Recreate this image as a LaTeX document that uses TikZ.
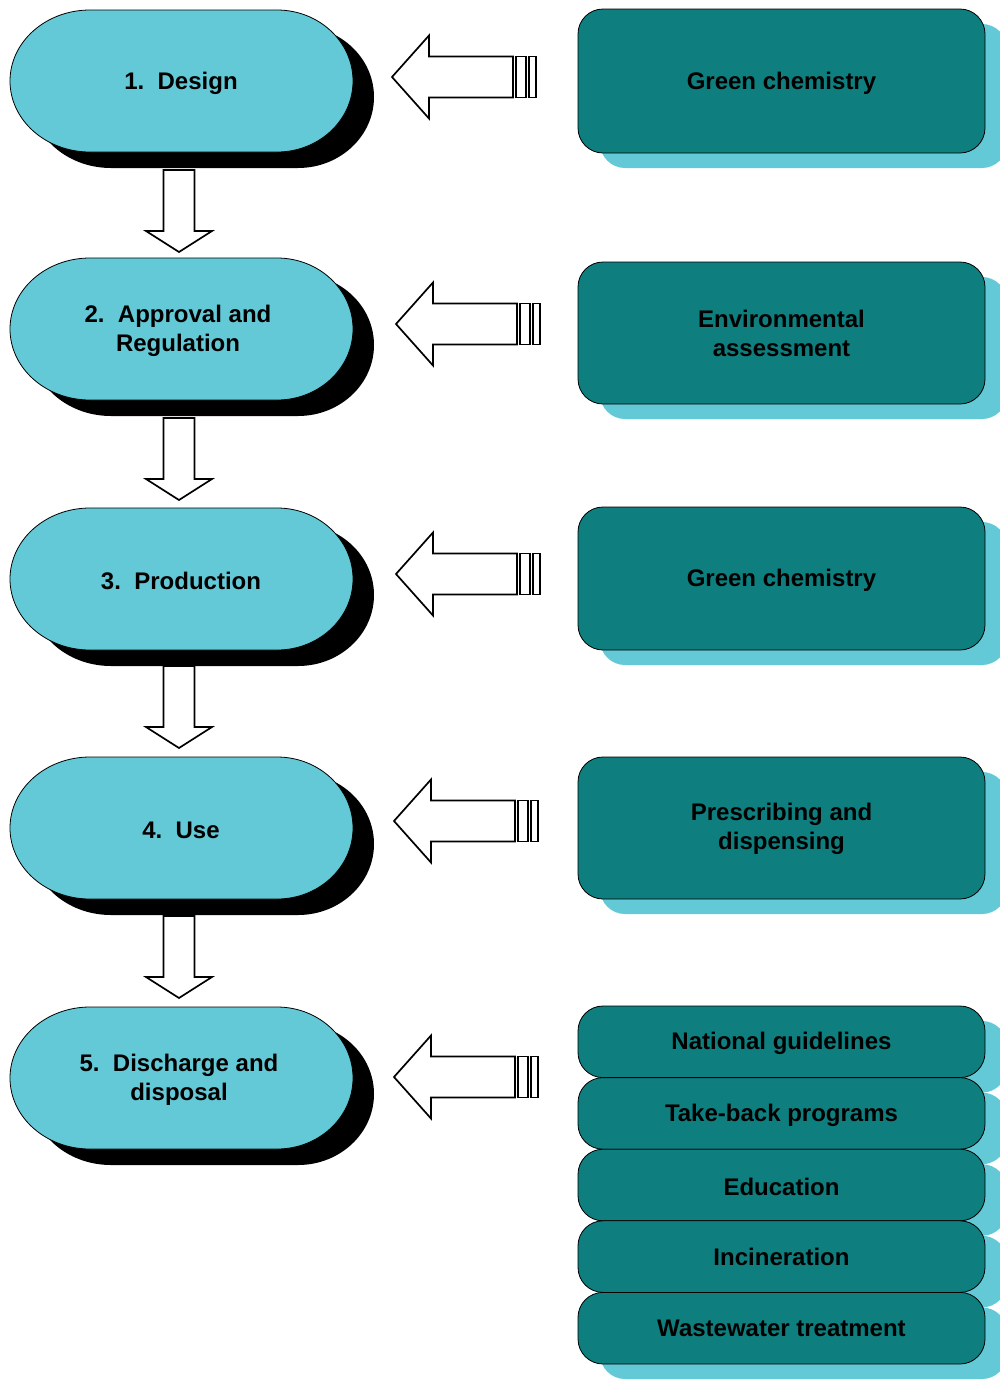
\documentclass[tikz,border=0pt]{standalone}
\usepackage{fontspec}
\setmainfont{Liberation Sans}
\usetikzlibrary{shadows}
\definecolor{lightc}{HTML}{63C9D6}
\definecolor{tealc}{HTML}{0E7E7E}
\tikzset{
  stadium/.pic={\path[pic actions] (90,0) -- (277,0)
      .. controls (319,0) and (353,31.8) .. (353,71)
      .. controls (353,110.2) and (319,142) .. (277,142)
      -- (90,142)
      .. controls (45.8,142) and (10,110.2) .. (10,71)
      .. controls (10,31.8) and (45.8,0) .. (90,0) -- cycle;},
  larrow/.pic={\path[pic actions] (0,0) -- (37,-41.5) -- (37,-20.5) -- (121,-20.5)
      -- (121,20.5) -- (37,20.5) -- (37,41.5) -- cycle;
    \path[pic actions] (124,-20.5) rectangle (134,20.5);
    \path[pic actions] (137,-20.5) rectangle (144,20.5);},
  darrow/.pic={\path[pic actions] (0,0) -- (-33,-21) -- (-15.5,-21) -- (-15.5,-82)
      -- (15.5,-82) -- (15.5,-21) -- (33,-21) -- cycle;},
  ovaltext/.style={align=center, font=\fontsize{24}{29}\selectfont\bfseries, text=black},
  rbox/.style={rectangle, rounded corners=25pt, minimum width=407pt, draw=black,
    line width=0.8pt, fill=tealc,
    general shadow={shadow xshift=22pt, shadow yshift=-15pt, fill=lightc}},
  blockarrow/.style={draw=black, fill=white, line width=1.7pt, line join=miter},
}
\begin{document}
\begin{tikzpicture}[x=1pt,y=-1pt]
\useasboundingbox (0,0) rectangle (1000,1385);
\clip (0,0) rectangle (1000,1385);
% left stadium shapes with black shadows
\foreach \t in {10,258,508,757,1007}{
  \pic[fill=black] at (21,\t+16) {stadium};
  \pic[fill=lightc, draw=black, line width=0.8pt] at (0,\t) {stadium};
}
\node[ovaltext] (s1) at (181,83) {1.\ \ Design};
\node[ovaltext] (s2) at (178,331) {2.\ \ Approval and\\Regulation};
\node[ovaltext] (s3) at (181,581) {3.\ \ Production};
\node[ovaltext] (s4) at (181,830) {4.\ \ Use};
\node[ovaltext] (s5) at (179,1080) {5.\ \ Discharge and\\disposal};
% down arrows
\pic[blockarrow] at (179,252) {darrow};
\pic[blockarrow] at (179,500) {darrow};
\pic[blockarrow] at (179,748) {darrow};
\pic[blockarrow] at (179,998) {darrow};
% left arrows
\pic[blockarrow] at (392,77) {larrow};
\pic[blockarrow] at (396,324) {larrow};
\pic[blockarrow] at (396,574) {larrow};
\pic[blockarrow] at (394,821) {larrow};
\pic[blockarrow] at (394,1077) {larrow};
% right boxes
\node[rbox, minimum height=144pt] (r1) at (781.5,81) {};
\node[rbox, minimum height=142pt] (r2) at (781.5,333) {};
\node[rbox, minimum height=143pt] (r3) at (781.5,578.5) {};
\node[rbox, minimum height=142pt] (r4) at (781.5,828) {};
\node[rbox, minimum height=71.6pt] (r5) at (781.5,1041.8) {};
\node[rbox, minimum height=71.6pt] (r6) at (781.5,1113.4) {};
\node[rbox, minimum height=71.6pt] (r7) at (781.5,1185.0) {};
\node[rbox, minimum height=71.6pt] (r8) at (781.5,1256.6) {};
\node[rbox, minimum height=71.6pt] (r9) at (781.5,1328.2) {};
\node[ovaltext] (t1) at (781.5,83) {Green chemistry};
\node[ovaltext] (t2) at (781.5,333) {Environmental\\assessment};
\node[ovaltext] (t3) at (781.5,580) {Green chemistry};
\node[ovaltext] (t4) at (781.5,829) {Prescribing and\\dispensing};
\node[ovaltext] (t5) at (781.5,1043.5) {National guidelines};
\node[ovaltext] (t6) at (781.5,1115) {Take-back programs};
\node[ovaltext] (t7) at (781.5,1186.5) {Education};
\node[ovaltext] (t8) at (781.5,1256.6) {Incineration};
\node[ovaltext] (t9) at (781.5,1328.2) {Wastewater treatment};
\end{tikzpicture}
\end{document}
